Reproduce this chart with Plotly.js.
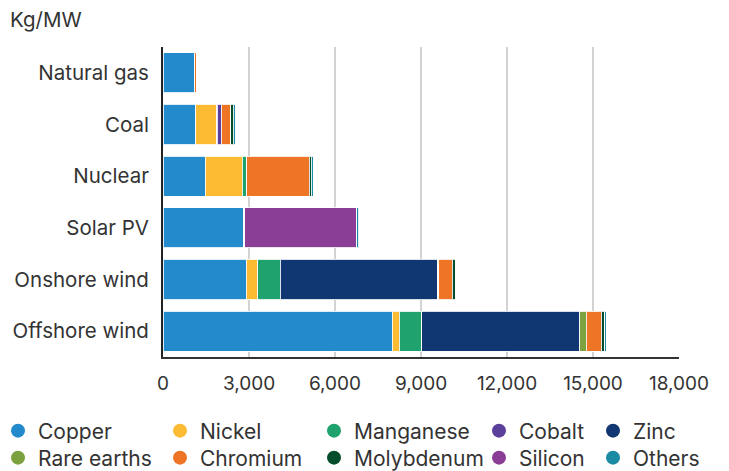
<!DOCTYPE html>
<html>
<head>
<meta charset="utf-8">
<script src="https://cdn.plot.ly/plotly-3.0.1.min.js"></script>
<style>html,body{margin:0;padding:0;background:#fff;}#chart{width:729px;height:471px;}</style>
</head>
<body>
<div id="chart"></div>
<script>
// Categories (top to bottom)
var technologies = ["Natural gas", "Coal", "Nuclear", "Solar PV", "Onshore wind", "Offshore wind"];

// Mineral intensity, kg/MW, in the same order as technologies
var copper      = [1100, 1150, 1473, 2822, 2900, 8000];
var nickel      = [16,   730,  1297, 0,    404,  240];
var manganese   = [0,    5,    148,  0,    780,  790];
var cobalt      = [0,    150,  0,    0,    0,    0];
var zinc        = [0,    0,    0,    30,   5500, 5500];
var rareEarths  = [0,    0,    0,    0,    40,   239];
var chromium    = [48,   320,  2190, 0,    470,  525];
var molybdenum  = [6,    90,   70,   0,    110,  109];
var silicon     = [0,    0,    0,    3908, 0,    0];
var others      = [0,    70,   70,   60,   0,    60];

var mineralNames = ["Copper", "Nickel", "Manganese", "Cobalt", "Zinc", "Rare earths", "Chromium", "Molybdenum", "Silicon", "Others"];
var mineralValues = [copper, nickel, manganese, cobalt, zinc, rareEarths, chromium, molybdenum, silicon, others];
var mineralColors = ["#238bcc", "#fdbb33", "#1fa26e", "#5c3f9b", "#113772", "#7ba23f", "#ee7526", "#034d2c", "#8b3e95", "#1b8aa3"];

var xTicks = [0, 3000, 6000, 9000, 12000, 15000, 18000];

var FONT = "Inter, 'Noto Sans', Arial, sans-serif";
var TXT = "#333333";

var traces = [];
// Stacked bars
mineralNames.forEach(function (name, i) {
  traces.push({
    type: "bar",
    orientation: "h",
    name: name,
    y: technologies,
    x: mineralValues[i],
    marker: { color: mineralColors[i], line: { color: "rgba(255,255,255,0.85)", width: 1 } },
    showlegend: false,
    hoverinfo: "name+x"
  });
});

// Legend entries (circle markers), one small legend per entry laid out as a 5x2 table
var legendIds = mineralNames.map(function (n, i) { return i === 0 ? "legend" : "legend" + (i + 1); });
mineralNames.forEach(function (name, i) {
  traces.push({
    type: "scatter",
    mode: "markers",
    name: name,
    x: [null],
    y: [null],
    marker: { color: mineralColors[i], size: 14, symbol: "circle" },
    showlegend: true,
    legend: legendIds[i],
    hoverinfo: "skip"
  });
});

var plotLeft = 163, plotWidth = 516, plotBottom = 424, plotHeight = 310;
function px2paperX(px) { return (px - plotLeft) / plotWidth; }
function px2paperY(py) { return (357 - py) / plotHeight; }
var colLeft = [-2, 160, 314, 479, 593];
var rowCenter = [431, 458];

function legendDef(k) {
  return {
    x: px2paperX(colLeft[k % 5]),
    xanchor: "left",
    y: px2paperY(rowCenter[Math.floor(k / 5)]),
    yanchor: "middle",
    orientation: "v",
    traceorder: "normal",
    bgcolor: "rgba(0,0,0,0)",
    borderwidth: 0,
    font: { family: FONT, size: 21, color: TXT },
    itemclick: false,
    itemdoubleclick: false
  };
}

var layout = {
  width: 729,
  height: 471,
  margin: { l: 163, r: 50, t: 47, b: 114, autoexpand: false },
  paper_bgcolor: "#ffffff",
  plot_bgcolor: "#ffffff",
  barmode: "stack",
  bargap: 0.22,
  font: { family: FONT, color: TXT },
  xaxis: {
    range: [0, 18000],
    tickvals: xTicks,
    tickformat: ",d",
    showgrid: true,
    gridcolor: "#d3d3d3",
    gridwidth: 2,
    zeroline: false,
    showline: true,
    linecolor: "#333333",
    linewidth: 2,
    ticks: "",
    ticklabelstandoff: 8,
    tickfont: { family: FONT, size: 19, color: TXT },
    automargin: false,
    fixedrange: true
  },
  yaxis: {
    type: "category",
    autorange: "reversed",
    showgrid: false,
    zeroline: false,
    showline: true,
    linecolor: "#222222",
    linewidth: 2,
    ticks: "",
    ticklabelstandoff: 8,
    tickfont: { family: FONT, size: 20.5, color: TXT },
    automargin: false,
    fixedrange: true
  },
  annotations: [{
    text: "Kg/MW",
    xref: "paper", yref: "paper",
    x: px2paperX(8), y: 1, xanchor: "left", yanchor: "bottom",
    yshift: 13,
    showarrow: false,
    font: { family: FONT, size: 20.5, color: TXT }
  }]
};
legendIds.forEach(function (id, k) { layout[id] = legendDef(k); });

Plotly.newPlot("chart", traces, layout, { displayModeBar: false, staticPlot: true });
</script>
</body>
</html>
